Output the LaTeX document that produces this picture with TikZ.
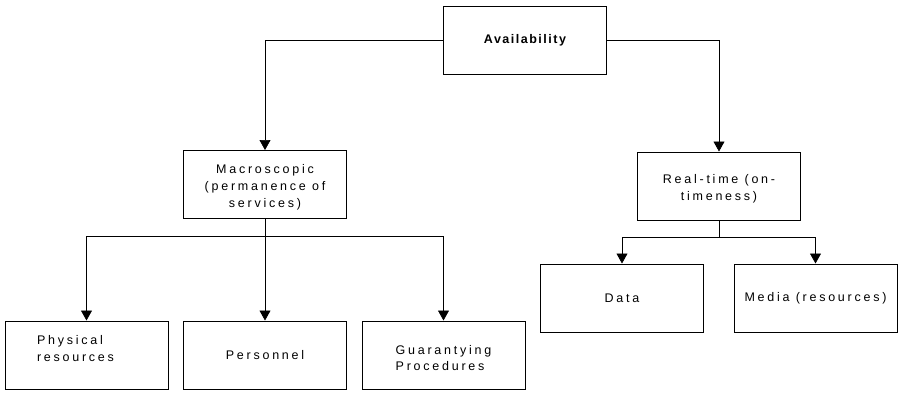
\documentclass[tikz,border=0pt]{standalone}
\usepackage{fontspec}
\setmainfont{Liberation Sans}[LetterSpace=22]
\usetikzlibrary{arrows.meta, positioning}

\begin{document}
\begin{tikzpicture}[x=1pt, y=-1pt, auto]
	\tikzstyle{block} = [ draw, rectangle, line width=1pt, minimum width=163pt, minimum height=68pt, align=center, font={\fontsize{12.5}{16.8}\selectfont} ];
	\tikzstyle{link} = [ line width=0.7pt ];
	\tikzstyle{feed} = [ -{Triangle[width=11pt, length=10pt]}, line width=0.7pt ];

	\useasboundingbox (0,0) rectangle (898,394);

	% top of the tree
	\node[block, font={\fontsize{12.5}{16.8}\selectfont\bfseries\addfontfeature{LetterSpace=12}}] (avail) at (525,40) {Availability};

	% second level
	\node[block, text height=48pt] (macro) at (265,184.5) {Macroscopic\\(permanence of\\services)};
	\node[block, text height=31pt] (realtime) at (719,186) {Real-time (on-\\timeness)};

	% leaves
	\node[block, align=left, text width=99pt, inner xsep=32pt, text depth=30pt] (phys) at (86.5,355) {Physical\\resources};
	\node[block] (pers) at (265,355) {Personnel};
	\node[block, align=left, text height=32pt] (guar) at (443.5,355) {Guarantying\\Procedures};
	\node[block] (data) at (622,298) {Data};
	\node[block] (media) at (815.5,298) {Media (resources)};

	\draw[feed] (avail.west) -| (macro.north);
	\draw[feed] (avail.east) -| (realtime.north);

	\coordinate (lbus) at (265,236);
	\coordinate (rbus) at (719,237);
	\draw[link] (macro.south) -- (lbus);
	\draw[link] (realtime.south) -- (rbus);

	\foreach \leaf in {phys,pers,guar} {
		\draw[feed] (lbus) -| (\leaf.north);
	}
	\foreach \leaf in {data,media} {
		\draw[feed] (rbus) -| (\leaf.north);
	}
\end{tikzpicture}
\end{document}
